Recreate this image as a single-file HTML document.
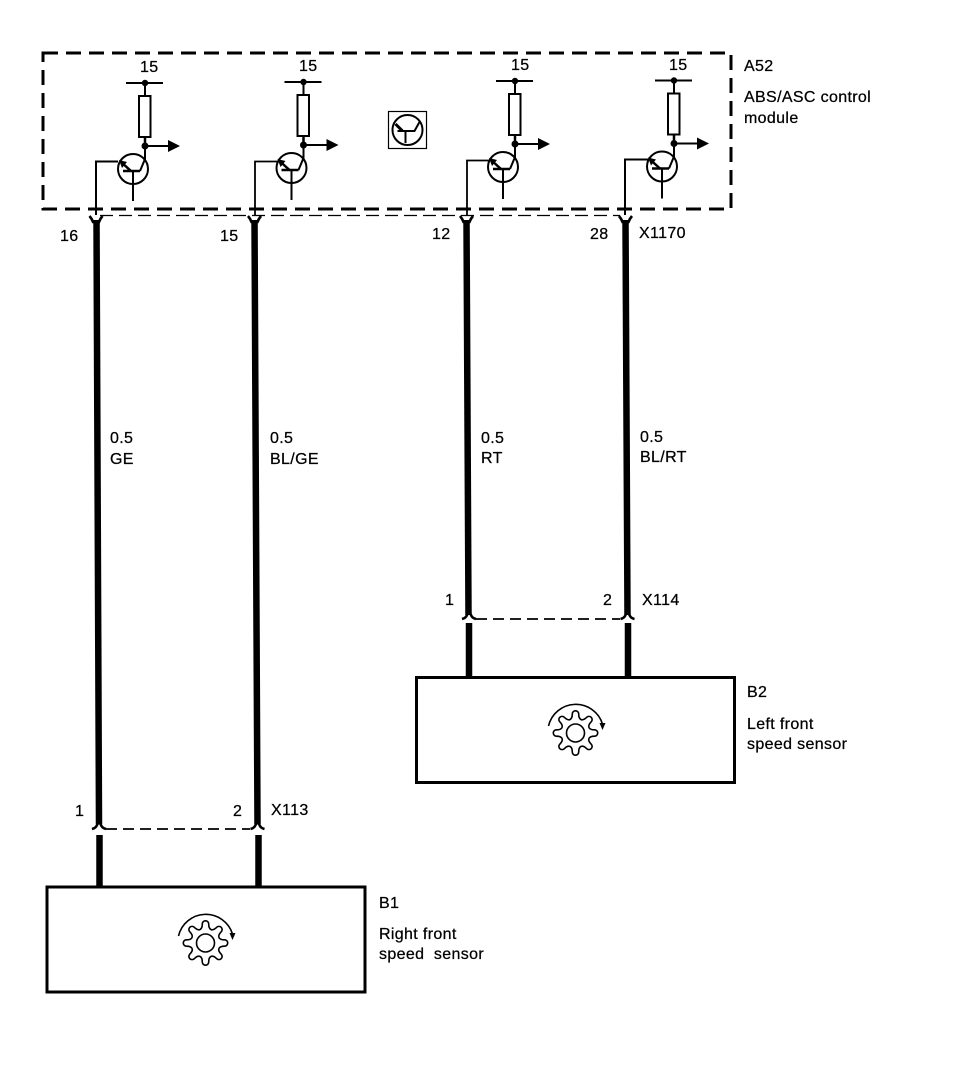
<!DOCTYPE html>
<html><head><meta charset="utf-8"><style>
html,body{margin:0;padding:0;background:#fff}
svg{display:block}
text{font-family:"Liberation Sans",sans-serif;font-size:16px;letter-spacing:.35px;fill:#000;stroke:#000;stroke-width:.25px}
</style></head><body>
<svg width="960" height="1068" viewBox="0 0 960 1068" xmlns="http://www.w3.org/2000/svg">
<defs>
<g id="tr" fill="none" stroke="#000">
  <path d="M-19 0H18" stroke-width="2"/>
  <circle cx="0" cy="0" r="3.2" fill="#000" stroke="none"/>
  <path d="M0 0V13" stroke-width="2"/>
  <rect x="-6" y="13" width="11.5" height="41" stroke-width="2" fill="#fff"/>
  <path d="M0 54V63" stroke-width="2.5"/>
  <circle cx="0" cy="63" r="3.5" fill="#000" stroke="none"/>
  <path d="M0 63H24" stroke-width="2"/>
  <path d="M23 57L35 63L23 69Z" fill="#000" stroke="none"/>
  <circle cx="-12" cy="86" r="15" stroke-width="2"/>
  <path d="M-22 88H-5" stroke-width="2.5"/>
  <path d="M-5 88L0 76V63" stroke-width="2"/>
  <path d="M-12 88V118" stroke-width="2"/>
  <path d="M-14 88L-24 79" stroke-width="2.5"/>
  <path d="M-26 77L-18 79L-23 85Z" fill="#000" stroke="none"/>
</g>
<g id="tooth" fill="none" stroke="#000" stroke-width="1.6">
  <path d="M-5.6 -13.4Q-3.2 -14.5 -3.2 -19A3.2 3.2 0 0 1 3.2 -19Q3.2 -14.5 5.6 -13.4"/>
</g>
<g id="gear" fill="none" stroke="#000" stroke-width="1.6">
  <circle r="9"/>
  <use href="#tooth"/>
  <use href="#tooth" transform="rotate(45)"/>
  <use href="#tooth" transform="rotate(90)"/>
  <use href="#tooth" transform="rotate(135)"/>
  <use href="#tooth" transform="rotate(180)"/>
  <use href="#tooth" transform="rotate(225)"/>
  <use href="#tooth" transform="rotate(270)"/>
  <use href="#tooth" transform="rotate(315)"/>
  <path d="M-27 -7A28 28 0 0 1 27 -9"/>
  <path d="M24 -10L30 -10L27 -3Z" fill="#000" stroke="none"/>
</g>
<path id="cup" d="M-6.5 -7Q-4 -4 -3 -1H3Q4 -4 6.5 -7" fill="none" stroke="#000" stroke-width="2.6"/>
<path id="arch" d="M-7 5Q-3 4 -2 1Q0 -3 2 1Q3 4 7 5" fill="none" stroke="#000" stroke-width="2.6"/>
</defs>

<rect x="43" y="53" width="688" height="156" fill="none" stroke="#000" stroke-width="3" stroke-dasharray="15 8"/>
<path d="M100 215.5H620" fill="none" stroke="#000" stroke-width="1.2" stroke-dasharray="13 6"/>

<use href="#tr" x="145" y="83"/>
<use href="#tr" x="303.5" y="82"/>
<use href="#tr" x="515" y="81"/>
<use href="#tr" x="674" y="80.5"/>

<path d="M118 161.5H96V215" fill="none" stroke="#000" stroke-width="2"/>
<path d="M277 161.5H255V215" fill="none" stroke="#000" stroke-width="1.8"/>
<path d="M490 160.5H467V215" fill="none" stroke="#000" stroke-width="1.8"/>
<path d="M648 159.5H625V215" fill="none" stroke="#000" stroke-width="2"/>

<g transform="translate(407.5 130)" fill="none" stroke="#000">
  <rect x="-19" y="-18.5" width="38" height="37" stroke-width="1.2"/>
  <circle r="15" stroke-width="2"/>
  <path d="M-10 1H7L12 -8M-2 1V13" stroke-width="2"/>
  <path d="M-12 -6L-5 1" stroke-width="3"/>
</g>

<!-- wires -->
<g fill="none" stroke="#000" stroke-width="6.5">
  <path d="M96.5 220L99 824"/>
  <path d="M254.5 220L257.5 824"/>
  <path d="M466.5 220L468.5 615"/>
  <path d="M625.5 220L627.5 615"/>
  <path d="M99.5 835V887"/>
  <path d="M258.5 835V887"/>
  <path d="M469 623V678"/>
  <path d="M628 623V678"/>
</g>
<use href="#cup" x="96" y="223"/>
<use href="#cup" x="254.5" y="223"/>
<use href="#cup" x="466.5" y="223"/>
<use href="#cup" x="625.5" y="223"/>
<use href="#arch" x="99" y="824"/>
<use href="#arch" x="257.5" y="824"/>
<use href="#arch" x="469" y="614"/>
<use href="#arch" x="627.5" y="614"/>
<path d="M106 829H250" fill="none" stroke="#000" stroke-width="1.8" stroke-dasharray="11 6"/>
<path d="M476 619H620" fill="none" stroke="#000" stroke-width="1.8" stroke-dasharray="11 6"/>

<rect x="47" y="887" width="318" height="105" fill="#fff" stroke="#000" stroke-width="3"/>
<rect x="416.5" y="677.5" width="318" height="105" fill="#fff" stroke="#000" stroke-width="3"/>
<use href="#gear" x="205.5" y="943"/>
<use href="#gear" x="575.5" y="733"/>

<!-- labels -->
<text x="140" y="72">15</text>
<text x="299" y="71">15</text>
<text x="511" y="70">15</text>
<text x="669" y="70">15</text>
<text x="744" y="71">A52</text>
<text x="744" y="102">ABS/ASC control</text>
<text x="744" y="123">module</text>
<text x="60" y="241">16</text>
<text x="220" y="241">15</text>
<text x="432" y="239">12</text>
<text x="590" y="239">28</text>
<text x="639" y="238">X1170</text>
<text x="110" y="443">0.5</text>
<text x="110" y="464">GE</text>
<text x="270" y="443">0.5</text>
<text x="270" y="464">BL/GE</text>
<text x="481" y="443">0.5</text>
<text x="481" y="463">RT</text>
<text x="640" y="442">0.5</text>
<text x="640" y="462">BL/RT</text>
<text x="445" y="605">1</text>
<text x="603" y="605">2</text>
<text x="642" y="605">X114</text>
<text x="75" y="816">1</text>
<text x="233" y="816">2</text>
<text x="271" y="815">X113</text>
<text x="747" y="697">B2</text>
<text x="747" y="729">Left front</text>
<text x="747" y="749">speed sensor</text>
<text x="379" y="908">B1</text>
<text x="379" y="939">Right front</text>
<text x="379" y="959" xml:space="preserve">speed  sensor</text>
</svg>
</body></html>
